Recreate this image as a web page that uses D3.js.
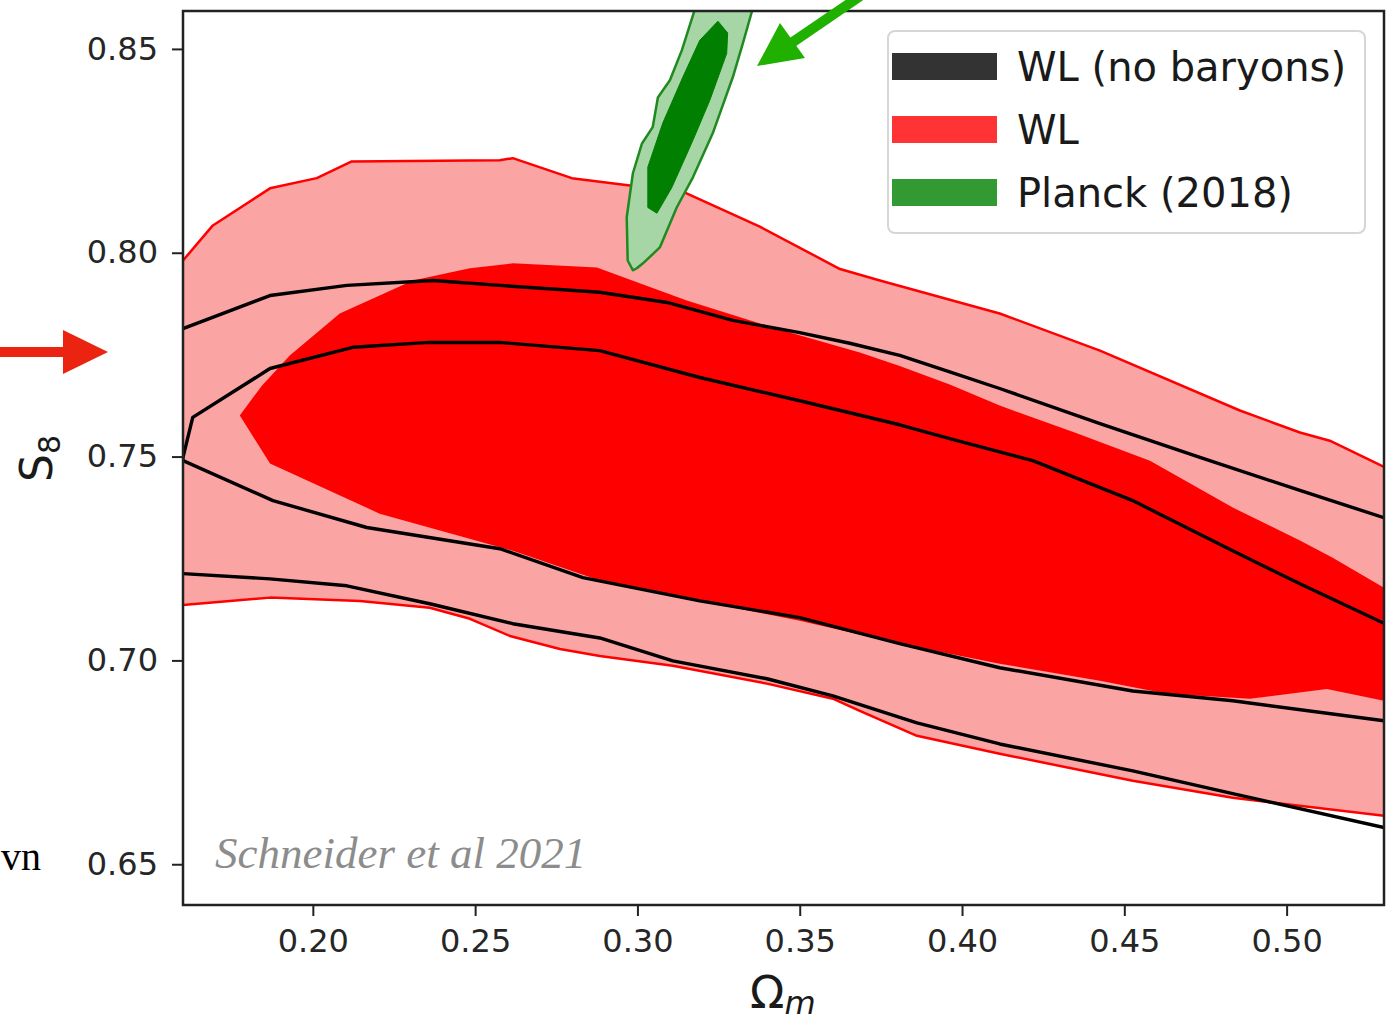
<!DOCTYPE html>
<html>
<head>
<meta charset="utf-8">
<script src="https://cdn.jsdelivr.net/npm/d3@7"></script>
<style>
  html, body { margin: 0; padding: 0; background: #fff; }
  svg { display: block; }
  text { font-family: "DejaVu Sans", sans-serif; }
</style>
</head>
<body>
<svg id="chart" width="1400" height="1023"></svg>
<script>
// Axis ticks
const omegaTicks = [0.20, 0.25, 0.30, 0.35, 0.40, 0.45, 0.50];
const s8Ticks = [0.65, 0.70, 0.75, 0.80, 0.85];

// WL (with baryons), 95% contour: upper and lower edges as [Omega_m, S8]
const wl95Upper = [
  [0.1600, 0.7981], [0.1692, 0.8067], [0.1868, 0.8158], [0.2012, 0.8183], [0.2120, 0.8224],
  [0.2576, 0.8227], [0.2616, 0.8232], [0.2798, 0.8183], [0.2977, 0.8165], [0.3131, 0.8153],
  [0.3377, 0.8064], [0.3624, 0.7960], [0.3747, 0.7932], [0.4116, 0.7851], [0.4425, 0.7760],
  [0.4856, 0.7613], [0.5041, 0.7559], [0.5133, 0.7539], [0.5300, 0.7475]
];
const wl95Lower = [
  [0.1600, 0.7136], [0.1868, 0.7154], [0.2145, 0.7146], [0.2360, 0.7129], [0.2484, 0.7102],
  [0.2607, 0.7060], [0.2761, 0.7028], [0.2884, 0.7011], [0.3109, 0.6987], [0.3399, 0.6943],
  [0.3602, 0.6906], [0.3685, 0.6876], [0.3861, 0.6815], [0.4116, 0.6771], [0.4526, 0.6705],
  [0.4834, 0.6663], [0.5300, 0.6619]
];

// WL (with baryons), 68% contour, closed outline
const wl68 = [
  [0.1775, 0.7601], [0.1843, 0.7674], [0.1929, 0.7748], [0.2083, 0.7851], [0.2308, 0.7932],
  [0.2484, 0.7962], [0.2616, 0.7974], [0.2875, 0.7964], [0.3007, 0.7925], [0.3152, 0.7883],
  [0.3448, 0.7809], [0.3685, 0.7755], [0.3808, 0.7722], [0.3962, 0.7677], [0.4116, 0.7625],
  [0.4347, 0.7559], [0.4579, 0.7490], [0.4834, 0.7375], [0.5041, 0.7294], [0.5142, 0.7252],
  [0.5300, 0.7178], [0.5300, 0.6901], [0.5124, 0.6930], [0.4887, 0.6906], [0.4631, 0.6918],
  [0.4425, 0.6950], [0.4116, 0.6992], [0.3808, 0.7041], [0.3500, 0.7097], [0.3192, 0.7146],
  [0.2884, 0.7196], [0.2616, 0.7269], [0.2206, 0.7360], [0.1868, 0.7483]
];

// WL (no baryons), 95% contour edges
const nb95Upper = [
  [0.1600, 0.7814], [0.1868, 0.7895], [0.2105, 0.7920], [0.2370, 0.7932], [0.2576, 0.7920],
  [0.2884, 0.7903], [0.3091, 0.7878], [0.3294, 0.7834], [0.3500, 0.7804], [0.3654, 0.7778],
  [0.3808, 0.7748], [0.3962, 0.7708], [0.4116, 0.7667], [0.4425, 0.7581], [0.4733, 0.7498],
  [0.5041, 0.7417], [0.5300, 0.7350]
];
const nb95Lower = [
  [0.1600, 0.7213], [0.1868, 0.7200], [0.2105, 0.7183], [0.2360, 0.7139], [0.2616, 0.7090],
  [0.2884, 0.7055], [0.3109, 0.6999], [0.3399, 0.6955], [0.3602, 0.6913], [0.3861, 0.6847],
  [0.4116, 0.6795], [0.4526, 0.6729], [0.4834, 0.6673], [0.5300, 0.6590]
];

// WL (no baryons), 68% contour, open at the right-hand edge
const nb68 = [
  [0.5300, 0.7091], [0.5041, 0.7188], [0.4834, 0.7269], [0.4526, 0.7392], [0.4218, 0.7490],
  [0.3962, 0.7544], [0.3808, 0.7578], [0.3500, 0.7637], [0.3192, 0.7694], [0.2884, 0.7760],
  [0.2576, 0.7780], [0.2360, 0.7780], [0.2123, 0.7768], [0.1868, 0.7716], [0.1630, 0.7596],
  [0.1600, 0.7498], [0.1600, 0.7490], [0.1877, 0.7392], [0.2166, 0.7326], [0.2576, 0.7274],
  [0.2832, 0.7203], [0.3192, 0.7146], [0.3500, 0.7105], [0.3808, 0.7041], [0.4116, 0.6982],
  [0.4526, 0.6925], [0.4834, 0.6901], [0.5300, 0.6852]
];

// Planck (2018) contours
const planck95 = [
  [0.3186, 0.8620], [0.3365, 0.8620], [0.3352, 0.8590], [0.3325, 0.8514], [0.3294, 0.8431],
  [0.3232, 0.8293], [0.3171, 0.8185], [0.3121, 0.8111], [0.3069, 0.8013], [0.3017, 0.7974],
  [0.2998, 0.7962], [0.2986, 0.7957], [0.2970, 0.7981], [0.2967, 0.8087], [0.2986, 0.8195],
  [0.3014, 0.8268], [0.3047, 0.8308], [0.3063, 0.8381], [0.3100, 0.8423], [0.3137, 0.8497]
];
const planck68 = [
  [0.3248, 0.8568], [0.3278, 0.8539], [0.3275, 0.8489], [0.3223, 0.8374], [0.3171, 0.8276],
  [0.3106, 0.8160], [0.3060, 0.8097], [0.3032, 0.8111], [0.3032, 0.8210], [0.3078, 0.8318],
  [0.3140, 0.8431], [0.3192, 0.8521]
];

const legendLabels = ["WL (no baryons)", "WL", "Planck (2018)"];
const legendColors = ["#333333", "#ff3333", "#339933"];

// ---- layout ----
const plot = { left: 183, right: 1384, top: 11, bottom: 905 };
const svg = d3.select("#chart");

const x = d3.scaleLinear().domain([0.16, 0.53]).range([plot.left, plot.right]);
const y = d3.scaleLinear().domain([0.64, 0.8593]).range([plot.bottom, plot.top]);

const line = d3.line().x(d => x(d[0])).y(d => y(d[1]));
const closed = d3.line().x(d => x(d[0])).y(d => y(d[1])).curve(d3.curveLinearClosed);

svg.append("defs").append("clipPath").attr("id", "plotClip")
  .append("rect")
  .attr("x", plot.left).attr("y", plot.top)
  .attr("width", plot.right - plot.left).attr("height", plot.bottom - plot.top);

const g = svg.append("g").attr("clip-path", "url(#plotClip)");

// WL 95% fill: upper edge then lower edge reversed
const wl95Poly = wl95Upper.concat(wl95Lower.slice().reverse());
g.append("path").attr("d", closed(wl95Poly)).attr("fill", "#fba4a4").attr("stroke", "none");
[wl95Upper, wl95Lower].forEach(edge => {
  g.append("path").attr("d", line(edge))
    .attr("fill", "none").attr("stroke", "#ff0000").attr("stroke-width", 2.5)
    .attr("stroke-linejoin", "round");
});

// WL 68% fill
g.append("path").attr("d", closed(wl68)).attr("fill", "#ff0000").attr("stroke", "none");

// No-baryons contours (lines only)
[nb95Upper, nb95Lower, nb68].forEach(edge => {
  g.append("path").attr("d", line(edge))
    .attr("fill", "none").attr("stroke", "#000").attr("stroke-width", 3.4)
    .attr("stroke-linejoin", "round");
});

// Planck
g.append("path").attr("d", closed(planck95))
  .attr("fill", "#a6d6a6").attr("stroke", "#1f8a1f").attr("stroke-width", 2.5)
  .attr("stroke-linejoin", "round");
g.append("path").attr("d", closed(planck68))
  .attr("fill", "#007f00").attr("stroke", "#007f00").attr("stroke-width", 1);

// ---- axes ----
const xAxis = d3.axisBottom(x).tickValues(omegaTicks).tickFormat(d3.format(".2f"))
  .tickSize(11).tickPadding(12);
const yAxis = d3.axisLeft(y).tickValues(s8Ticks).tickFormat(d3.format(".2f"))
  .tickSize(11).tickPadding(14);

const gx = svg.append("g").attr("transform", `translate(0,${plot.bottom})`).call(xAxis);
const gy = svg.append("g").attr("transform", `translate(${plot.left},0)`).call(yAxis);
[gx, gy].forEach(a => {
  a.select(".domain").remove();
  a.selectAll(".tick line").attr("stroke", "#222").attr("stroke-width", 2);
  a.selectAll(".tick text").attr("fill", "#262626").style("font-size", "32px")
    .style("font-family", "DejaVu Sans");
});
gx.selectAll(".tick text").attr("dy", "0.75em");

// frame
svg.append("rect")
  .attr("x", plot.left).attr("y", plot.top)
  .attr("width", plot.right - plot.left).attr("height", plot.bottom - plot.top)
  .attr("fill", "none").attr("stroke", "#222").attr("stroke-width", 2.5);

// axis titles
const xt = svg.append("text").attr("x", 750).attr("y", 1008).attr("fill", "#1a1a1a")
  .style("font-size", "45px");
xt.append("tspan").text("Ω");
xt.append("tspan").attr("dy", 6).style("font-size", "32px").style("font-style", "italic").text("m");

const yt = svg.append("text").attr("transform", "translate(52,482) rotate(-90)").attr("fill", "#1a1a1a")
  .style("font-size", "44px");
yt.append("tspan").text("S");
yt.append("tspan").attr("dy", 8).style("font-size", "30px").text("8");

// ---- legend ----
const lg = svg.append("g");
lg.append("rect").attr("x", 888).attr("y", 31).attr("width", 477).attr("height", 202)
  .attr("rx", 7).attr("fill", "#fff").attr("fill-opacity", 0.85)
  .attr("stroke", "#d6d6d6").attr("stroke-width", 2);
legendLabels.forEach((lab, i) => {
  const yy = 53 + i * 63;
  lg.append("rect").attr("x", 892).attr("y", yy).attr("width", 105).attr("height", 27)
    .attr("fill", legendColors[i]);
  lg.append("text").attr("x", 1017).attr("y", yy + 28).attr("fill", "#1a1a1a")
    .style("font-size", "40px").text(lab);
});

// ---- annotations ----
svg.append("text").attr("x", 215).attr("y", 868).attr("fill", "#8c8c8c")
  .style("font-family", "Liberation Serif, serif").style("font-style", "italic")
  .style("font-size", "45px").text("Schneider et al 2021");

svg.append("text").attr("x", 1).attr("y", 870).attr("fill", "#000")
  .style("font-family", "Liberation Serif, serif").style("font-size", "40px").text("vn");

// red arrow pointing at the S8 axis
svg.append("line").attr("x1", 0).attr("y1", 352).attr("x2", 68).attr("y2", 352)
  .attr("stroke", "#ea2410").attr("stroke-width", 10);
svg.append("path").attr("d", "M63,330 L108,352 L63,374 Z").attr("fill", "#ea2410");

// green arrow pointing at the Planck contour
svg.append("line").attr("x1", 872).attr("y1", -12).attr("x2", 790).attr("y2", 44)
  .attr("stroke", "#1fb000").attr("stroke-width", 10);
svg.append("path").attr("d", "M757,66 L780,23 L805,58 Z").attr("fill", "#1fb000");
</script>
</body>
</html>
